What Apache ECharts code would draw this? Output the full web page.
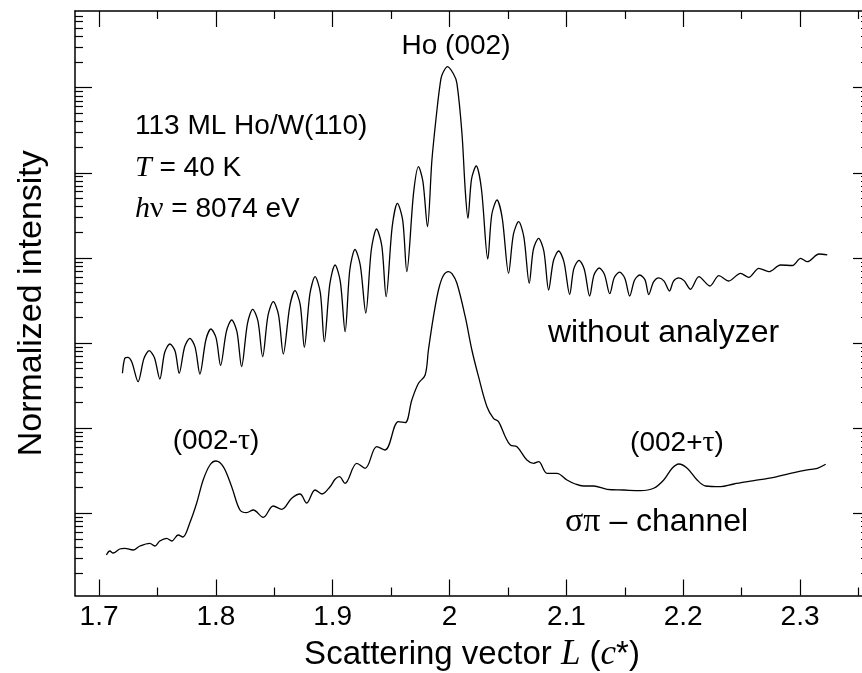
<!DOCTYPE html>
<html>
<head>
<meta charset="utf-8">
<script src="https://cdn.jsdelivr.net/npm/echarts@6/dist/echarts.min.js"></script>
<style>
html,body{margin:0;padding:0;background:#fff;}
#chart{width:862px;height:673px;}
</style>
</head>
<body>
<div id="chart"></div>
<script>
// ---- data ----
// "without analyzer" curve
const lTop = [1.720,1.722,1.7246,1.728,1.7334,
  1.7384,1.7429,1.7474,1.752,
  1.7561,1.7606,1.7651,1.7686,
  1.7732,1.7777,1.7822,1.7863,
  1.7914,1.7957,1.8002,1.804,
  1.809,1.8135,1.818,1.822,
  1.827,1.8315,1.836,1.84,
  1.8446,1.8491,1.8536,1.8577,
  1.8632,1.8677,1.8722,1.8757,
  1.8804,1.8849,1.8894,1.8928,
  1.8975,1.902,1.9065,1.9106,
  1.9146,1.9191,1.9236,1.9283,
  1.933,1.9375,1.942,1.9457,
  1.9509,1.9554,1.9599,1.9634,
  1.9692,1.9734,1.9772,1.9811,
  1.9849,1.9892,1.992,1.9935,1.9982,2.0034,2.0063,2.0106,2.0134,2.0157,
  2.0188,2.0228,2.0273,2.0327,
  2.0361,2.0406,2.0451,2.0505,
  2.0546,2.0591,2.0636,2.0682,
  2.0717,2.0762,2.0807,2.0848,
  2.0889,2.0934,2.0979,2.1028,
  2.1063,2.1108,2.1153,2.1199,
  2.1236,2.1281,2.1326,2.1371,
  2.141,2.1455,2.15,2.1542,
  2.1583,2.1628,2.1673,2.1705,
  2.1746,2.1791,2.1836,2.1882,
  2.1917,2.1962,2.2007,2.2062,
  2.2134,2.2228,2.2305,2.239,2.249,2.2561,2.2647,2.2733,2.2833,2.2934,2.3005,2.3062,2.3162,2.3233];
const iTop = [44.1,66.2,68.0,59.9,35.2,
  65.9,81.3,67.2,37.8,
  76.9,97.5,80.0,44.1,
  89.8,113.7,89.4,43.3,
  108.6,146.3,114.3,54.5,
  137.2,186.6,136.1,52.8,
  169.0,249.2,180.9,69.1,
  211.1,306.1,214.9,74.4,
  268.7,412.2,281.2,89.2,
  373.5,602,387.9,103.7,
  491.9,826,526.1,135.9,
  720.6,1256,817.6,225.5,
  1240,2188,1384,350.4,
  2331,4385,2761,689,
  5800,11800,7865,2328,
  14140,54680,112600,141000,176500,144900,112600,29130,6283,2922,
  8443,12030,6412,971.6,
  3217,4795,2920,659.9,
  1880,2666,1757,503.5,
  1254,1701,1199,420.1,
  926.8,1206,899.1,371.9,
  744.4,938,736.9,357.1,
  630.4,761.7,640.2,380.1,
  588,679.9,578.9,357.1,
  546.9,630.4,552.5,371.9,
  522.1,584.5,534.5,408.9,
  534.5,584.5,540.7,428.1,
  602,468.1,618.5,535.9,659.9,592.3,755.6,689,826,815,990.2,903.1,1112,1083];
// "sigma-pi channel" curve
const lSig = [1.7063,1.7092,1.712,1.7177,1.722,1.7291,1.7349,1.7434,1.7477,1.752,1.7578,1.7623,1.7677,1.7717,1.7777,1.7835,1.7891,1.7949,1.8,1.8063,1.8135,1.8206,1.8263,1.832,1.8405,1.8491,1.8563,1.8649,1.872,1.8777,1.8849,1.8908,1.8977,1.902,1.9057,1.9105,1.9206,1.9277,1.9377,1.9448,1.9562,1.962,1.9677,1.9734,1.9791,1.9819,1.9862,1.9905,1.9945,1.9991,2.0022,2.0063,2.0134,2.0191,2.0248,2.032,2.0376,2.0419,2.0477,2.052,2.0577,2.0662,2.0719,2.0762,2.0834,2.0919,2.1005,2.1076,2.1147,2.1233,2.1348,2.149,2.1633,2.1747,2.1833,2.1905,2.1962,2.2034,2.2119,2.2191,2.2319,2.2433,2.2605,2.2776,2.2948,2.3062,2.3148,2.3219];
const iSig = [0.3236,0.3606,0.3417,0.3807,0.388,0.3706,0.4128,0.4442,0.4128,0.4727,0.5084,0.4727,0.5559,0.5266,0.7755,1.311,2.461,3.693,4.115,3.527,2.053,1.093,1.016,1.093,0.8975,1.218,1.114,1.501,1.686,1.321,1.878,1.686,2.053,2.508,2.692,2.251,3.867,3.378,6.059,5.541,11.92,11.6,21.43,33.67,42.15,82.87,204,420.1,613.5,689,647.6,503.5,204,82.87,40.25,17.88,13.06,11.92,7.941,6.345,6.059,4.228,3.867,4.038,2.951,2.951,2.461,2.209,2.093,2.093,1.914,1.878,1.843,1.967,2.461,3.378,3.795,3.378,2.461,2.093,2.053,2.209,2.415,2.648,2.999,3.227,3.378,3.764];

// ---- ticks ----
const xMajorTicks = [1.7,1.8,1.9,2.0,2.1,2.2,2.3];
const xMinorTicks = [1.75,1.85,1.95,2.05,2.15,2.25,2.35];
const yMajorTicks = [1,10,100,1000,10000,100000];
const yMinorMultipliers = [2,3,4,5,6,7,8,9];
const yDecades = [0.1,1,10,100,1000,10000,100000];

const xMin = 1.6794, xMax = 2.359;
const yMin = 0.1082, yMax = 796000;

const yMinorTicks = [];
yDecades.forEach(d => yMinorMultipliers.forEach(m => {
  const v = +(d * m).toPrecision(3);
  if (v > yMin && v < yMax) yMinorTicks.push(v);
}));

const topData = lTop.map((l, i) => [l, iTop[i]]);
const sigData = lSig.map((l, i) => [l, iSig[i]]);

const SANS = '"Liberation Sans", Arial, Helvetica, sans-serif';
const SERIF = '"Liberation Serif", "Times New Roman", serif';

function xAxisDef(pos, ticks, len, showLine, labels) {
  return {
    type: 'value', position: pos, min: xMin, max: xMax,
    axisLine: { show: showLine, onZero: false, lineStyle: { color: '#000', width: 1.5 } },
    axisTick: { show: true, inside: true, length: len, customValues: ticks, lineStyle: { color: '#000', width: 1.2 } },
    axisLabel: labels ? { show: true, customValues: ticks, color: '#000', fontSize: 28, fontFamily: SANS, margin: 8 } : { show: false },
    splitLine: { show: false }
  };
}
function yAxisDef(pos, ticks, len, showLine) {
  return {
    type: 'log', logBase: 10, position: pos, min: yMin, max: yMax,
    axisLine: { show: showLine, onZero: false, lineStyle: { color: '#000', width: 1.5 } },
    axisTick: { show: true, inside: true, length: len, customValues: ticks, lineStyle: { color: '#000', width: 1.2 } },
    axisLabel: { show: false },
    splitLine: { show: false }
  };
}

const xAxes = [
  xAxisDef('bottom', xMajorTicks, 16, true, true),
  xAxisDef('bottom', xMinorTicks, 8, false, false),
  xAxisDef('top', xMajorTicks, 16, true, false),
  xAxisDef('top', xMinorTicks, 8, false, false)
];
xAxes[0].name = '{a|Scattering vector }{i|L}{a| (}{i|c}{a|*)}';
xAxes[0].nameLocation = 'middle';
xAxes[0].nameGap = 42;
xAxes[0].nameTextStyle = {
  rich: {
    a: { fontFamily: SANS, fontSize: 33, color: '#000' },
    i: { fontFamily: SERIF, fontStyle: 'italic', fontSize: 35, color: '#000' }
  }
};

const yAxes = [
  yAxisDef('left', yMajorTicks, 17, true),
  yAxisDef('left', yMinorTicks, 8, false),
  yAxisDef('right', yMajorTicks, 16, true),
  yAxisDef('right', yMinorTicks, 8, false)
];
yAxes[0].name = 'Normalized intensity';
yAxes[0].nameLocation = 'middle';
yAxes[0].nameGap = 26;
yAxes[0].nameRotate = 90;
yAxes[0].nameTextStyle = { fontFamily: SANS, fontSize: 34, color: '#000' };

const richBase = {
  a: { fontFamily: SANS, fontSize: 28, fill: '#000', color: '#000' },
  i: { fontFamily: SERIF, fontStyle: 'italic', fontSize: 30, fill: '#000', color: '#000' },
  s: { fontFamily: SERIF, fontSize: 30, fill: '#000', color: '#000' },
  A: { fontFamily: SANS, fontSize: 32, fill: '#000', color: '#000' },
  S: { fontFamily: SERIF, fontSize: 34, fill: '#000', color: '#000' }
};
function txt(x, y, text, align) {
  return { type: 'text', x: x, y: y, silent: true,
    style: { text: text, rich: richBase, align: align || 'left', verticalAlign: 'middle', fontFamily: SANS, fontSize: 28, fill: '#000' } };
}

const chart = echarts.init(document.getElementById('chart'), null, { renderer: 'canvas' });
chart.setOption({
  animation: false,
  backgroundColor: '#fff',
  grid: { left: 75, top: 11, right: -7, bottom: 77.5, containLabel: false, outerBoundsMode: 'none' },
  xAxis: xAxes,
  yAxis: yAxes,
  series: [
    { name: 'without analyzer', type: 'line', xAxisIndex: 0, yAxisIndex: 0, data: topData,
      showSymbol: false, smooth: 0.3, lineStyle: { color: '#000', width: 1.3 }, silent: true },
    { name: 'σπ – channel', type: 'line', xAxisIndex: 0, yAxisIndex: 0, data: sigData,
      showSymbol: false, smooth: 0.35, lineStyle: { color: '#000', width: 1.3 }, silent: true }
  ],
  graphic: [
    txt(456, 46, '{a|Ho (002)}', 'center'),
    txt(135, 126, '{a|113 ML Ho/W(110)}'),
    txt(135, 168, '{i|T}{a| = 40 K}'),
    txt(135, 209, '{i|h}{s|ν}{a| = 8074 eV}'),
    txt(548, 333, '{A|without analyzer}'),
    txt(216, 441, '{a|(002-}{s|τ}{a|)}', 'center'),
    txt(677, 443, '{a|(002+}{s|τ}{a|)}', 'center'),
    txt(565, 522, '{S|σπ}{A| – channel}')
  ]
});
</script>
</body>
</html>
